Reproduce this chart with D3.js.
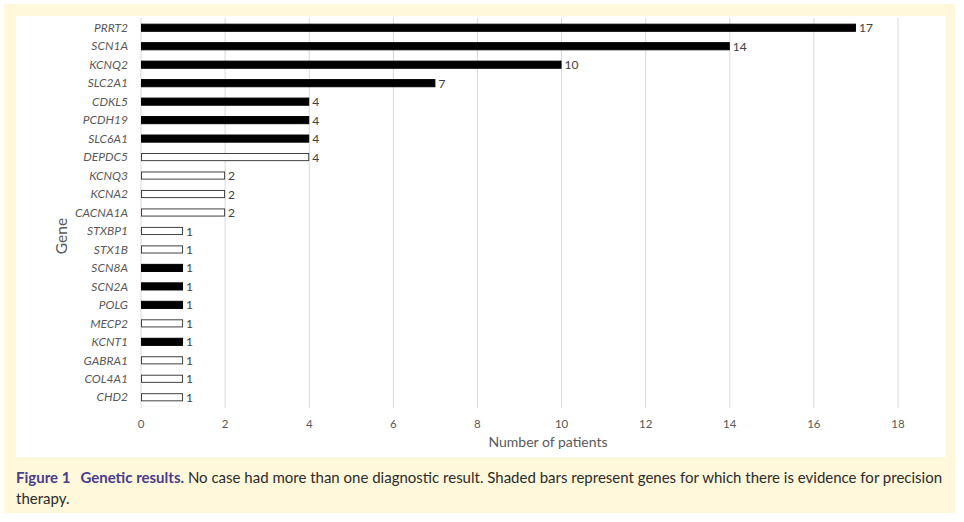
<!DOCTYPE html>
<html><head><meta charset="utf-8">
<script src="https://cdn.jsdelivr.net/npm/d3@7"></script>
<style>
html,body{margin:0;padding:0;background:#fff;}
svg{display:block;}
</style></head>
<body>
<script>
const genes = ["PRRT2","SCN1A","KCNQ2","SLC2A1","CDKL5","PCDH19","SLC6A1","DEPDC5","KCNQ3","KCNA2","CACNA1A","STXBP1","STX1B","SCN8A","SCN2A","POLG","MECP2","KCNT1","GABRA1","COL4A1","CHD2"];
const patients = [17,14,10,7,4,4,4,4,2,2,2,1,1,1,1,1,1,1,1,1,1];
const precision = [true,true,true,true,true,true,true,false,false,false,false,false,false,true,true,true,false,true,false,false,false];
const xTicks = [0,2,4,6,8,10,12,14,16,18];
const xTitle = "Number of patients";
const yTitle = "Gene";
const capLabel = "Figure 1";
const capTitle = "Genetic results.";
const capText1 = " No case had more than one diagnostic result. Shaded bars represent genes for which there is evidence for precision";
const capText2 = "therapy.";

const W = 964, H = 522;
const FONT = "Lato, 'Open Sans', sans-serif";
const svg = d3.select("body").append("svg").attr("width", W).attr("height", H);

// backgrounds
svg.append("rect").attr("x",4).attr("y",4).attr("width",951).attr("height",509).attr("fill","#fff8da");
svg.append("rect").attr("x",16).attr("y",16).attr("width",930).attr("height",441).attr("fill","#ffffff");

const x = d3.scaleLinear().domain([0,18]).range([141,898]);
const y = d3.scaleBand().domain(genes).range([18.5,406.5]).paddingInner(0.56).paddingOuter(0.28);

// gridlines
svg.append("g").selectAll("line").data(xTicks).join("line")
  .attr("x1",d=>x(d)).attr("x2",d=>x(d)).attr("y1",18).attr("y2",408)
  .attr("stroke","#d9d9d9").attr("stroke-width",1);

// x tick labels
svg.append("g").selectAll("text").data(xTicks).join("text")
  .attr("x",d=>x(d)).attr("y",428).attr("text-anchor","middle")
  .attr("font-family",FONT).attr("font-size",11.5)
  .attr("fill","#595959").text(d=>d);

svg.append("text").attr("x",548).attr("y",447).attr("text-anchor","middle")
  .attr("font-family",FONT).attr("font-size",14)
  .attr("fill","#595959").text(xTitle);

svg.append("text").attr("transform","translate(67,236) rotate(-90)").attr("text-anchor","middle")
  .attr("font-family",FONT).attr("font-size",15.5)
  .attr("fill","#595959").text(yTitle);

const data = genes.map((g,i)=>({g, v:patients[i], p:precision[i]}));

// bars
svg.append("g").selectAll("rect").data(data).join("rect")
  .attr("x",x(0)+0.5).attr("y",d=>y(d.g)+0.5)
  .attr("width",d=>x(d.v)-x(0)-1).attr("height",y.bandwidth()-1)
  .attr("fill",d=>d.p?"#000":"#fff")
  .attr("stroke",d=>d.p?"#000":"#404040").attr("stroke-width",1);

// gene labels
svg.append("g").selectAll("text").data(data).join("text")
  .attr("x",128).attr("y",d=>y(d.g)+y.bandwidth()/2).attr("dy","0.35em")
  .attr("text-anchor","end").attr("font-style","italic")
  .attr("font-family",FONT).attr("font-size",12)
  .attr("fill","#595959").text(d=>d.g);

// value labels
svg.append("g").selectAll("text").data(data).join("text")
  .attr("x",d=>x(d.v)+3).attr("y",d=>y(d.g)+y.bandwidth()/2).attr("dy","0.38em")
  .attr("font-family",FONT).attr("font-size",12)
  .attr("fill","#404040").text(d=>d.v);

// caption
const cap = svg.append("text").attr("x",16).attr("y",483)
  .attr("font-family",FONT).attr("font-size",15).attr("fill","#2b2b2b");
cap.append("tspan").attr("font-weight","bold").attr("fill","#4a3c8c").text(capLabel);
cap.append("tspan").attr("dx",10).attr("font-weight","bold").attr("fill","#4a3c8c").text(capTitle);
cap.append("tspan").text(capText1);
svg.append("text").attr("x",16).attr("y",504)
  .attr("font-family",FONT).attr("font-size",15).attr("fill","#2b2b2b").text(capText2);
</script>
</body></html>
